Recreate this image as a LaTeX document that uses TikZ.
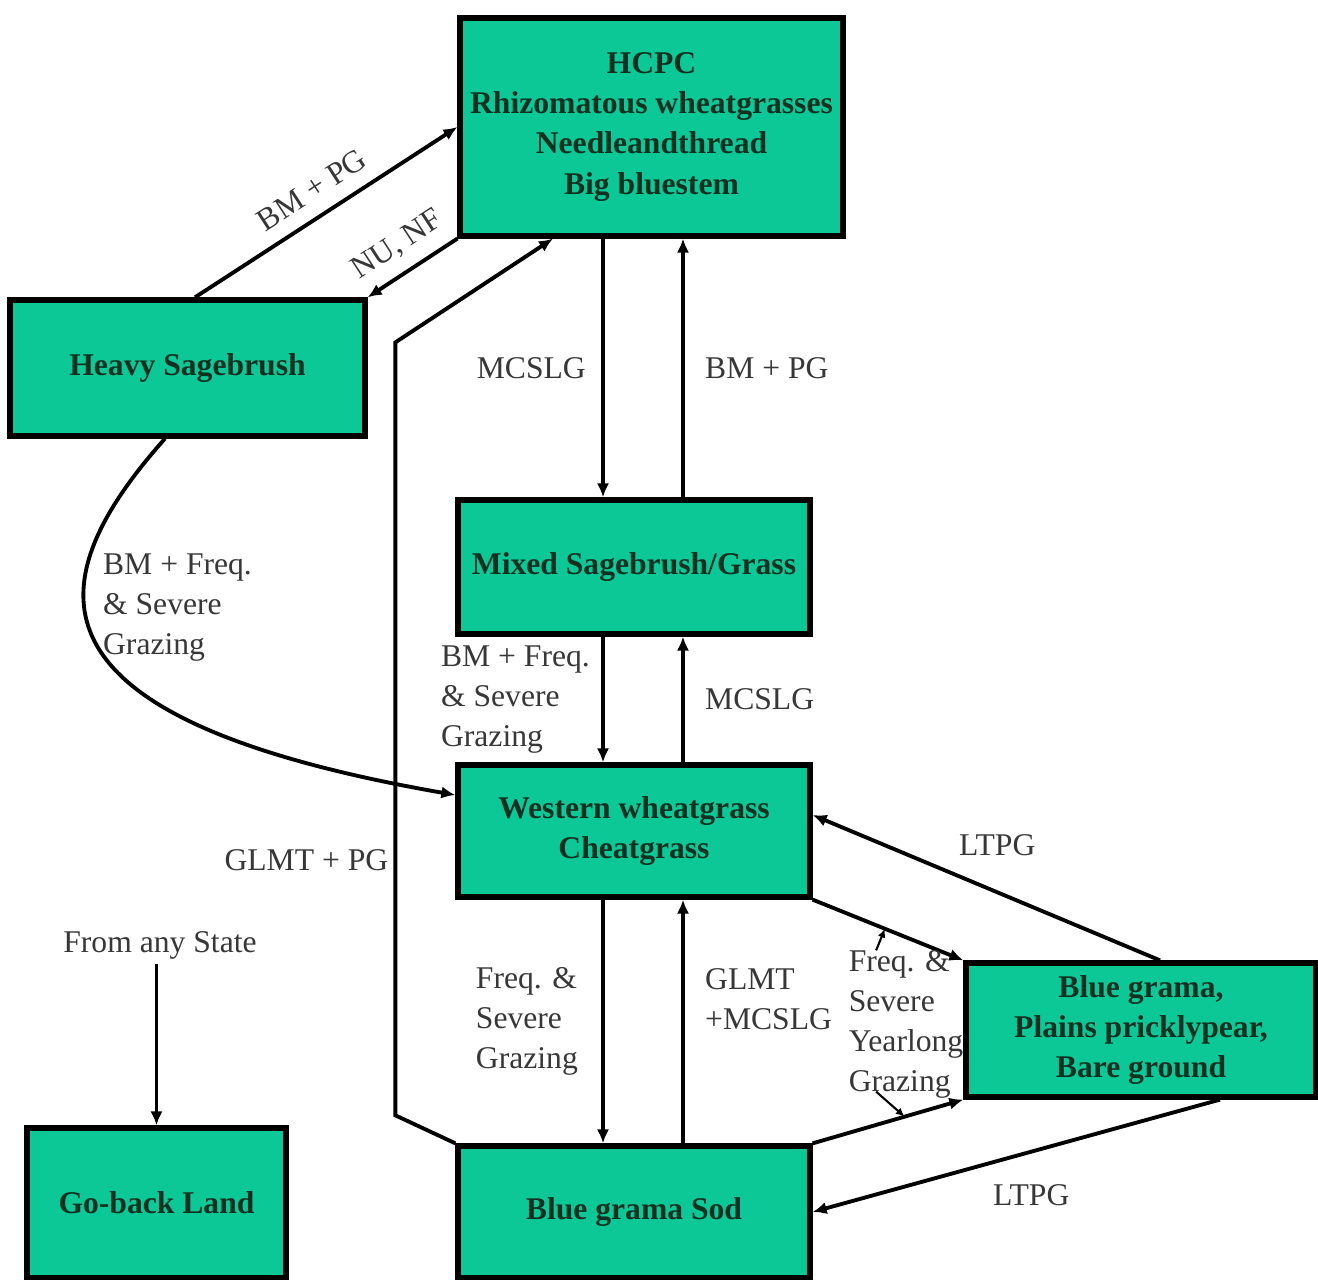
\documentclass[tikz,border=0pt]{standalone}
\usepackage{fontspec}
\setmainfont{Liberation Serif}
\newfontfamily\timesfam{Liberation Serif}
\usepackage{tikz}
\usetikzlibrary{calc,positioning,arrows.meta}
\definecolor{stategreen}{RGB}{12,200,150}
\definecolor{stateink}{RGB}{16,48,34}
\definecolor{lblgray}{RGB}{55,55,55}
\tikzset{
  statebox/.style={draw=black,line width=3pt,fill=stategreen,text=stateink,
    font=\timesfam\fontsize{18}{22.8}\selectfont\bfseries,align=center,inner sep=0pt},
  trans/.style={line width=2.2pt,-{Latex[length=8pt,width=7pt]}},
  lbl/.style={text=lblgray,font=\timesfam\fontsize{18}{22.8}\selectfont,align=left,inner sep=3pt},
  pointer/.style={line width=1.2pt,-{Latex[length=5pt,width=4.5pt]}}
}
\begin{document}
\begin{tikzpicture}[x=0.02cm,y=0.02cm]
\useasboundingbox (0,0) rectangle (1318,1280);
% states
\node[statebox,minimum width=7.66cm,minimum height=4.36cm] (hcpc) at (651.5,1153)
  {HCPC\\Rhizomatous wheatgrasses\\Needleandthread\\Big bluestem};
\node[statebox,minimum width=7.1cm,minimum height=2.72cm] (heavy) at (187.5,912) {Heavy Sagebrush};
\node[statebox,minimum width=7.04cm,minimum height=2.68cm] (mixed) at (634,713) {Mixed Sagebrush/Grass};
\node[statebox,minimum width=7.04cm,minimum height=2.64cm] (western) at (634,449) {Western wheatgrass\\Cheatgrass};
\node[statebox,minimum width=7.0cm,minimum height=2.68cm] (bluegr) at (1141,250) {Blue grama,\\Plains pricklypear,\\Bare ground};
\node[statebox,minimum width=7.04cm,minimum height=2.64cm] (sod) at (634,68) {Blue grama Sod};
\node[statebox,minimum width=5.18cm,minimum height=3.0cm] (goback) at (156.5,77) {Go-back Land};
% transitions
\draw[trans] ([xshift=0.15cm]heavy.north) -- (hcpc.west) node[midway,above=5pt,sloped,lbl] {BM + PG};
\draw[trans] (hcpc.south west) -- (heavy.north east) node[midway,above=6pt,sloped,lbl,inner sep=1pt] {NU, NF};
\draw[trans] (sod.north west) -- ++(-60,28) -- ++(0,773) node[pos=0.33,left,lbl] {GLMT + PG}
  -- ([xshift=-1.97cm]hcpc.south);
\draw[trans] ([xshift=-0.97cm]hcpc.south) -- ([xshift=-0.62cm]mixed.north) node[midway,left=0.2cm,lbl] {MCSLG};
\draw[trans] ([xshift=0.98cm]mixed.north) -- ([xshift=0.63cm]hcpc.south) node[midway,right=0.3cm,lbl] {BM + PG};
\draw[trans] ([xshift=-0.62cm]mixed.south) -- ([xshift=-0.62cm]western.north)
  node[midway,left=0.12cm,lbl] {BM + Freq.\\\& Severe\\Grazing};
\draw[trans] ([xshift=0.98cm]western.north) -- ([xshift=0.98cm]mixed.south) node[midway,right=0.3cm,lbl] {MCSLG};
\draw[trans] ([xshift=-0.45cm]heavy.south) .. controls (30,690) and (25,560) .. ([yshift=0.72cm]western.west)
  node[pos=0.4,anchor=west,xshift=0.22cm,lbl] {BM + Freq.\\\& Severe\\Grazing};
\draw[trans] ([xshift=-0.62cm]western.south) -- ([xshift=-0.62cm]sod.north)
  node[midway,left=0.36cm,lbl] {Freq. \&\\Severe\\Grazing};
\draw[trans] ([xshift=0.98cm]sod.north) -- ([xshift=0.98cm]western.south)
  node[midway,right=0.3cm,yshift=0.45cm,lbl] {GLMT\\+MCSLG};
\draw[trans] (western.south east) -- (bluegr.north west) coordinate[pos=0.48] (fsA);
\draw[trans] (sod.north east) -- (bluegr.south west) coordinate[pos=0.61] (fsB);
\node[lbl] (yearlong) at (906,256) {Freq. \&\\Severe\\Yearlong\\Grazing};
\draw[pointer] ([xshift=0.66cm,yshift=-0.12cm]yearlong.north west) -- (fsA);
\draw[pointer] ([xshift=0.66cm,yshift=0.24cm]yearlong.south west) -- (fsB);
\draw[trans] ([xshift=0.38cm]bluegr.north) -- ([yshift=0.32cm]western.east)
  node[midway,above=0.5cm,xshift=0.22cm,lbl] {LTPG};
\draw[trans] ([xshift=1.58cm]bluegr.south) -- (sod.east)
  node[midway,below=0.44cm,xshift=0.3cm,lbl] {LTPG};
\node[lbl] (anystate) at (160,335) {From any State};
\draw[trans] (anystate.south -| goback.north) -- (goback.north);
\end{tikzpicture}
\end{document}
